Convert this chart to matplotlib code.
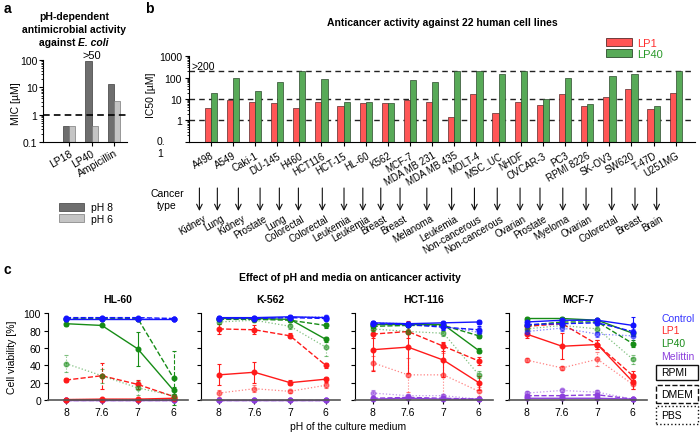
import numpy as np
import matplotlib
matplotlib.use("Agg")
import matplotlib.pyplot as plt
from matplotlib import transforms
from matplotlib.patches import Patch, Rectangle

plt.rcParams["font.family"] = ["Liberation Sans", "DejaVu Sans"]
plt.rcParams["axes.linewidth"] = 0.8

# ---- panel a data ----
mic_drugs = ["LP18", "LP40", "Ampicillin"]
mic_ph8 = [0.4, 90, 13]
mic_ph6 = [0.4, 0.4, 3.2]

# ---- panel b data ----
cell_lines = ["A498", "A549", "Caki-1", "DU-145", "H460", "HCT116", "HCT-15", "HL-60",
              "K562", "MCF-7", "MDA MB 231", "MDA MB 435", "MOLT-4", "MSC_UC", "NHDF",
              "OVCAR-3", "PC3", "RPMI 8226", "SK-OV3", "SW620", "T-47D", "U251MG"]
cancer_types = ["Kidney", "Lung", "Kidney", "Prostate", "Lung", "Colorectal", "Colorectal",
                "Leukemia", "Leukemia", "Breast", "Breast", "Melanoma", "Leukemia",
                "Non-cancerous", "Non-cancerous", "Ovarian", "Prostate", "Myeloma",
                "Ovarian", "Colorectal", "Breast", "Brain"]
ic50_lp1 = [3.8, 9, 7, 6.3, 3.8, 7.2, 4.9, 6.5, 6.5, 9, 7, 1.4, 16.5, 2.1, 7.2, 5,
            16.5, 4.5, 13, 29, 3.3, 20]
ic50_lp40 = [20, 100, 24, 63, 200, 84, 7.2, 7, 6.5, 75, 65, 200, 200, 143, 200, 9.6,
             93, 5.6, 115, 143, 4.7, 200]
# where the "cancer type" arrows sit (in bar-axis units)
arrow_x = [-0.51, 0.30, 1.25, 2.23, 3.10, 3.96, 5.04, 6.02, 6.87, 7.68, 8.55, 9.76,
           10.88, 11.91, 12.94, 13.97, 14.87, 15.90, 16.95, 18.11, 19.16, 20.14]

# ---- panel c data: rows are RPMI, DMEM, PBS ----
ph_labels = ["8", "7.6", "7", "6"]
panel_names = ["HL-60", "K-562", "HCT-116", "MCF-7"]

hl60_control = [[94, 94, 94, 94], [95, 95, 95, 94], [94, 95, 94, 94]]
hl60_lp1 = [[0.5, 1, 1, 2], [23, 28, 18, 4], [0.5, 0.5, 0.5, 1]]
hl60_lp40 = [[88, 86, 59, 11], [94, 94, 94, 25], [42, 28, 14, 5]]
hl60_mel = [[0, 0, 0, 0], [0, 0, 0, 0], [0, 0, 0, 0]]
hl60_control_err = [[2, 2, 1, 1], [1, 1, 1, 1], [1, 1, 1, 1]]
hl60_lp1_err = [[0.5, 0.5, 0.5, 1], [2, 15, 5, 2], [0.5, 0.5, 0.5, 0.5]]
hl60_lp40_err = [[3, 1, 20, 4], [1, 1, 1, 31], [10, 8, 8, 2]]
hl60_mel_err = [[0.5, 0.5, 0.5, 0.5], [0.5, 0.5, 0.5, 0.5], [0.5, 0.5, 0.5, 0.5]]

k562_control = [[95, 95, 96, 95], [94, 94, 95, 94], [95, 95, 95, 96]]
k562_lp1 = [[29, 32, 20, 24], [82, 81, 74, 40], [8, 13, 10, 17]]
k562_lp40 = [[94, 94, 93, 70], [93, 93, 92, 86], [90, 92, 85, 61]]
k562_mel = [[0, 0, 0, 0], [0, 0, 0, 0], [0, 0, 0, 0]]
k562_control_err = [[2, 2, 2, 2], [1, 1, 1, 1], [1, 1, 1, 2]]
k562_lp1_err = [[12, 12, 3, 3], [6, 5, 3, 3], [4, 4, 2, 3]]
k562_lp40_err = [[2, 1, 2, 3], [2, 2, 2, 3], [2, 2, 3, 10]]
k562_mel_err = [[0.5, 0.5, 0.5, 0.5], [0.5, 0.5, 0.5, 0.5], [0.5, 0.5, 0.5, 0.5]]

hct116_control = [[89, 88, 89, 90], [88, 87, 84, 81], [89, 88, 85, 78]]
hct116_lp1 = [[58, 61, 46, 20], [76, 79, 62, 45], [43, 29, 29, 10]]
hct116_lp40 = [[87, 87, 87, 57], [85, 86, 86, 74], [82, 79, 77, 29]]
hct116_mel = [[1, 2, 1, 1], [2, 3, 2, 1], [8, 5, 5, 1]]
hct116_control_err = [[2, 2, 2, 2], [2, 2, 3, 4], [2, 2, 4, 6]]
hct116_lp1_err = [[25, 30, 20, 8], [5, 8, 5, 5], [8, 20, 25, 5]]
hct116_lp40_err = [[3, 2, 2, 3], [2, 2, 2, 3], [2, 3, 3, 4]]
hct116_mel_err = [[1, 1, 1, 1], [1, 1, 1, 1], [3, 2, 2, 1]]

mcf7_control = [[90, 92, 92, 86], [87, 88, 89, 79], [79, 83, 76, 74]]
mcf7_lp1 = [[76, 62, 64, 21], [85, 88, 64, 28], [46, 37, 47, 18]]
mcf7_lp40 = [[94, 94, 92, 77], [86, 90, 90, 65], [82, 86, 82, 47]]
mcf7_mel = [[2, 2, 2, 1], [5, 5, 6, 1], [8, 11, 9, 1]]
mcf7_control_err = [[2, 2, 2, 10], [2, 2, 2, 5], [3, 3, 3, 8]]
mcf7_lp1_err = [[5, 15, 5, 8], [3, 3, 5, 5], [2, 2, 8, 5]]
mcf7_lp40_err = [[2, 2, 2, 3], [2, 2, 2, 4], [2, 2, 3, 5]]
mcf7_mel_err = [[1, 1, 1, 1], [1, 1, 1, 1], [2, 2, 2, 1]]

W, H = 700, 435
fig = plt.figure(figsize=(7, 4.35), dpi=100)


def px_rect(x0, y0, x1, y1):
    return [x0 / W, 1 - y1 / H, (x1 - x0) / W, (y1 - y0) / H]


def fx(x):
    return x / W


def fy(y):
    return 1 - y / H


blue, red, green, purple = "#1414ff", "#ff1a1a", "#168c16", "#8c3fdc"

# ================= panel a =================
ax_a = fig.add_axes(px_rect(43, 61, 127, 143))
xa = np.arange(len(mic_drugs))
bw = 0.27
ax_a.set_yscale("log")
ax_a.bar(xa - bw / 2, mic_ph8, bw, color="#6e6e6e", edgecolor="#3c3c3c", lw=0.5)
ax_a.bar(xa + bw / 2, mic_ph6, bw, color="#c4c4c4", edgecolor="#7a7a7a", lw=0.5)
ax_a.axhline(1, color="black", lw=1.2, dashes=(4, 2.5))
ax_a.set_ylim(0.1, 100)
ax_a.set_xlim(-1.16, 2.58)
ax_a.set_yticks([0.1, 1, 10, 100])
ax_a.set_yticklabels(["0.1", "1", "10", "100"])
ax_a.set_xticks(xa)
ax_a.set_xticklabels(mic_drugs, rotation=30, ha="right", va="top", rotation_mode="anchor")
for lab in ax_a.get_xticklabels():
    lab.set_transform(lab.get_transform() + transforms.ScaledTranslation(0.07, 0, fig.dpi_scale_trans))
ax_a.tick_params(labelsize=7.5, length=3, width=0.8, pad=1)
ax_a.tick_params(which="minor", length=1.5, width=0.6)
for s in ["top", "right"]:
    ax_a.spines[s].set_visible(False)
ax_a.text(xa[1], 100, ">50", ha="center", va="bottom", fontsize=8)
fig.text(fx(16), fy(104), "MIC [µM]", rotation=90, ha="center", va="center", fontsize=7.5)
fig.text(fx(74), fy(16.7), "pH-dependent", ha="center", va="center",
         fontsize=7.5, fontweight="bold")
fig.text(fx(74), fy(29.7), "antimicrobial activity", ha="center", va="center",
         fontsize=7.5, fontweight="bold")
fig.text(fx(78), fy(42.7), "against ", ha="right", va="center", fontsize=7.5, fontweight="bold")
fig.text(fx(78), fy(42.7), "E. coli", ha="left", va="center", fontsize=7.5, fontweight="bold",
         fontstyle="italic")
leg_a = fig.legend(handles=[Patch(fc="#6e6e6e", ec="#3c3c3c", lw=0.5),
                            Patch(fc="#c4c4c4", ec="#7a7a7a", lw=0.5)],
                   labels=["pH 8", "pH 6"], loc="upper left",
                   bbox_to_anchor=(fx(50), fy(194)), frameon=False, fontsize=7.5,
                   handlelength=2.4, handleheight=0.8, labelspacing=0.15, handletextpad=0.6)
fig.text(fx(4), fy(9), "a", fontsize=10, fontweight="bold", ha="left", va="center")

# ================= panel b =================
ax_b = fig.add_axes(px_rect(189, 57.3, 695, 142.7))
xb = np.arange(len(cell_lines))
bwb = 0.28
ax_b.set_yscale("log")
ax_b.bar(xb - bwb / 2, ic50_lp1, bwb, color="#ff5656", edgecolor="#5a2a2a", lw=0.5)
ax_b.bar(xb + bwb / 2, ic50_lp40, bwb, color="#58aa58", edgecolor="#2c4a2c", lw=0.5)
for yv in [200, 10, 1]:
    ax_b.axhline(yv, color="#222222", lw=1.0, dashes=(4, 3), zorder=0.5)
ax_b.set_ylim(0.1, 1000)
ax_b.set_xlim(-0.98, 21.87)
ax_b.set_yticks([0.1, 1, 10, 100, 1000])
ax_b.set_yticklabels(["", "1", "10", "100", "1000"])
ax_b.set_xticks(xb)
ax_b.set_xticklabels(cell_lines, rotation=30, ha="right", va="top", rotation_mode="anchor")
ax_b.tick_params(axis="x", labelsize=7, length=3, width=0.8, pad=3)
ax_b.tick_params(axis="y", labelsize=7.5, length=3, width=0.8, pad=2)
ax_b.tick_params(which="minor", length=1.5, width=0.6)
for s in ["top", "right"]:
    ax_b.spines[s].set_visible(False)
fig.text(fx(157), fy(137), "0.\n1", ha="left", va="top", fontsize=7.5, linespacing=1.3)
ax_b.text(0.005, 200, ">200", transform=transforms.blended_transform_factory(ax_b.transAxes, ax_b.transData),
          ha="left", va="bottom", fontsize=7.5)
fig.text(fx(151), fy(95), "IC50 [µM]", rotation=90, ha="center", va="center", fontsize=7.5)
fig.text(fx(442), fy(23), "Anticancer activity against 22 human cell lines", ha="center",
         va="center", fontsize=7.5, fontweight="bold")
leg_b = fig.legend(handles=[Patch(fc="#ff5656", ec="#5a2a2a", lw=0.6),
                            Patch(fc="#58aa58", ec="#2c4a2c", lw=0.6)],
                   labels=["LP1", "LP40"], loc="upper left",
                   bbox_to_anchor=(fx(596), fy(29)), frameon=False, fontsize=8,
                   handlelength=2.3, handleheight=0.7, labelspacing=0.1, handletextpad=0.5)
for t, c in zip(leg_b.get_texts(), ["#ff3030", "#2a9a2a"]):
    t.set_color(c)
fig.text(fx(145), fy(9), "b", fontsize=10, fontweight="bold", ha="left", va="center")

# cancer type arrows and labels
tr_b = transforms.blended_transform_factory(ax_b.transData, fig.transFigure)
for xa_, ct in zip(arrow_x, cancer_types):
    ax_b.annotate("", xy=(xa_, fy(212)), xytext=(xa_, fy(189)), xycoords=tr_b, textcoords=tr_b,
                  arrowprops=dict(arrowstyle="->", color="#111111", lw=0.8, shrinkA=0, shrinkB=0),
                  annotation_clip=False)
    ax_b.text(xa_ + 0.15, fy(214), ct, transform=tr_b, rotation=30, ha="right", va="top",
              rotation_mode="anchor", fontsize=7, clip_on=False)
fig.text(fx(167), fy(200), "Cancer\ntype", ha="center", va="center", fontsize=7.5, linespacing=1.3)

# ================= panel c =================
panel_data = [
    (hl60_control, hl60_lp1, hl60_lp40, hl60_mel),
    (k562_control, k562_lp1, k562_lp40, k562_mel),
    (hct116_control, hct116_lp1, hct116_lp40, hct116_mel),
    (mcf7_control, mcf7_lp1, mcf7_lp40, mcf7_mel),
]
panel_err = [
    (hl60_control_err, hl60_lp1_err, hl60_lp40_err, hl60_mel_err),
    (k562_control_err, k562_lp1_err, k562_lp40_err, k562_mel_err),
    (hct116_control_err, hct116_lp1_err, hct116_lp40_err, hct116_mel_err),
    (mcf7_control_err, mcf7_lp1_err, mcf7_lp40_err, mcf7_mel_err),
]
treat_colors = [blue, red, green, purple]
media_ls = ["-", "--", ":"]
media_lw = [1.0, 1.0, 0.9]
media_alpha = [1.0, 1.0, 0.55]
boxes = [(48, 188), (201, 340), (355, 493), (509, 647)]
xc = np.arange(len(ph_labels))

for k, (name, (x0, x1)) in enumerate(zip(panel_names, boxes)):
    ax = fig.add_axes(px_rect(x0, 314.3, x1, 401))
    # draw order: melittin, LP1, LP40, control ; PBS, DMEM, RPMI
    for ti in [3, 1, 2, 0]:
        vals = panel_data[k][ti]
        errs = panel_err[k][ti]
        for mi in [2, 1, 0]:
            eb = ax.errorbar(xc, vals[mi], yerr=errs[mi], color=treat_colors[ti],
                             ls=media_ls[mi], lw=media_lw[mi], alpha=media_alpha[mi],
                             marker="o", ms=3.3, capsize=1.5, elinewidth=0.8, capthick=0.8,
                             clip_on=False)
            eb[2][0].set_linestyle(media_ls[mi])
            for a in eb.lines[1]:
                a.set_clip_on(False)
    ax.set_xlim(-0.5, 3.4)
    ax.set_ylim(0, 100)
    ax.set_yticks([0, 20, 40, 60, 80, 100])
    ax.set_xticks(xc)
    ax.set_xticklabels(ph_labels)
    if k > 0:
        ax.set_yticklabels([])
    ax.tick_params(labelsize=7.5, length=3, width=0.8, pad=2)
    for s in ["top", "right"]:
        ax.spines[s].set_visible(False)
    ax.spines["bottom"].set_color("#555555")
    ax.spines["bottom"].set_linewidth(1.2)
    ax.set_title(name, fontsize=7.5, fontweight="bold", pad=8)

fig.text(fx(12), fy(357), "Cell viability [%]", rotation=90, ha="center", va="center", fontsize=7.5)
fig.text(fx(348), fy(427), "pH of the culture medium", ha="center", va="center", fontsize=7.5)
fig.text(fx(350), fy(278), "Effect of pH and media on anticancer activity", ha="center",
         va="center", fontsize=7.5, fontweight="bold")
fig.text(fx(4), fy(270), "c", fontsize=10, fontweight="bold", ha="left", va="center")

# legend for panel c
for lab, col, yy in zip(["Control", "LP1", "LP40", "Melittin"],
                        ["#3434ff", "#ff2a2a", "#1a8c1a", "#8c3fdc"],
                        [318.7, 331.5, 344, 357]):
    fig.text(fx(661), fy(yy), lab, color=col, ha="left", va="center", fontsize=7.5)
for lab, ls, (y0, y1) in zip(["RPMI", "DMEM", "PBS"], ["-", "--", ":"],
                             [(366, 381), (386, 404), (407, 425)]):
    fig.add_artist(Rectangle((fx(656), fy(y1)), (698 - 656) / W, (y1 - y0) / H,
                             transform=fig.transFigure, fill=False, lw=1.0, ls=ls,
                             edgecolor="#111111"))
    fig.text(fx(661), fy((y0 + y1) / 2), lab, ha="left", va="center", fontsize=7.5)

fig.savefig("out.png", dpi=100)
